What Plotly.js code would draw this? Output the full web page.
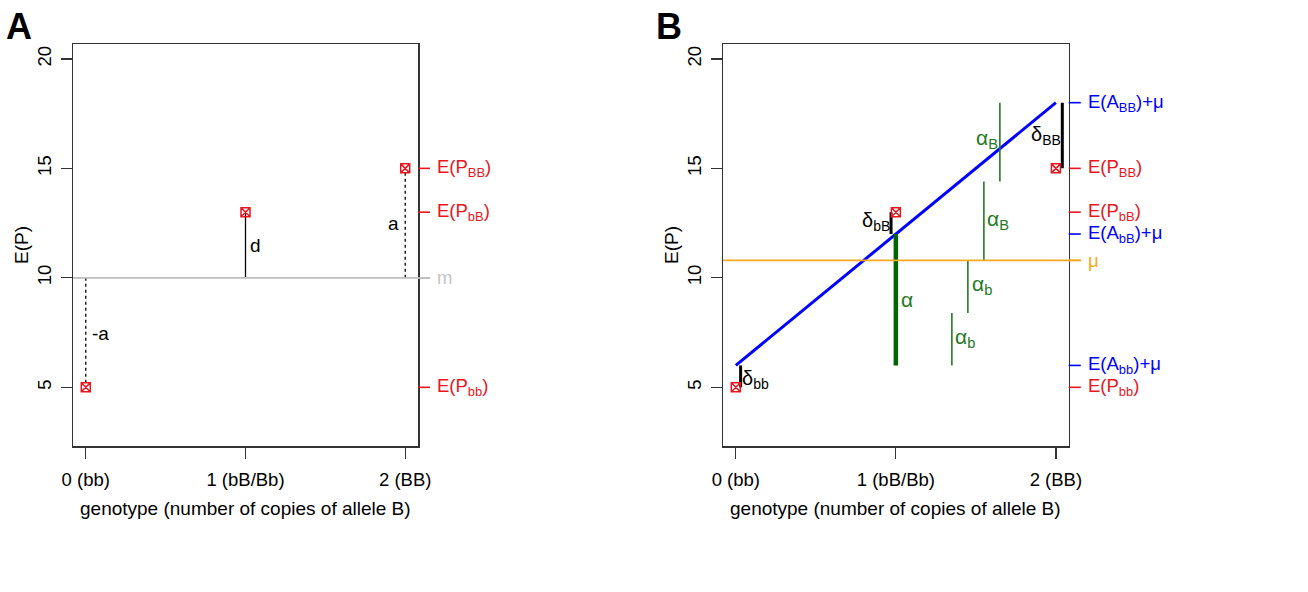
<!DOCTYPE html>
<html>
<head>
<meta charset="utf-8">
<script src="https://cdn.plot.ly/plotly-3.0.1.min.js"></script>
<style>html,body{margin:0;padding:0;background:#fff;}#chart{width:1308px;height:592px;}</style>
</head>
<body>
<div id="chart"></div>
<script>
// ---- data ----
const genotype = [0, 1, 2];
const genotypeLabels = ["0 (bb)", "1 (bB/Bb)", "2 (BB)"];
const yTicks = [5, 10, 15, 20];
const meanP = [5, 13, 15];              // E(P_bb), E(P_bB), E(P_BB)
const midpoint = 10;                    // m
const mu = 10.8;                        // population mean
const additivePlusMu = [6, 12, 18];     // E(A)+mu for bb, bB, BB
// panel A effect segments (from m to genotype means)
const effectStyle = ["dot", "solid", "dot"];
const effectLabels = ["-a", "d", "a"];
const effectLabelX = [0.09, 1.065, 1.925];
const effectLabelY = [7.48, 11.5, 12.5];
// panel B: allele substitution segments
const alphaTotalX = 1.0, alphaTotalFrom = 6, alphaTotalTo = 12;
const alphaX = [1.35, 1.45, 1.55, 1.65];
const alphaFrom = [6, 8.4, 10.8, 14.4];
const alphaTo = [8.4, 10.8, 14.4, 18];
const alphaLabels = ["α<sub>b</sub>", "α<sub>b</sub>", "α<sub>B</sub>", "α<sub>B</sub>"];
const alphaLabelX = [1.435, 1.536, 1.64, 1.567];
const alphaLabelY = [7.24, 9.68, 12.66, 16.33];
// panel B: dominance deviations
const deltaX = [0.03, 0.97, 2.04];
const deltaFrom = [6, 12, 18];
const deltaTo = [5, 13, 15];
const deltaLabels = ["δ<sub>bb</sub>", "δ<sub>bB</sub>", "δ<sub>BB</sub>"];
const deltaLabelX = [0.12, 0.876, 1.937];
const deltaLabelY = [5.37, 12.58, 16.48];
// right-hand margin labels
const rightA = [
  {v: meanP[2], t: "E(P<sub>BB</sub>)", c: "red"},
  {v: meanP[1], t: "E(P<sub>bB</sub>)", c: "red"},
  {v: midpoint, t: "m", c: "gray"},
  {v: meanP[0], t: "E(P<sub>bb</sub>)", c: "red"}
];
const rightB = [
  {v: additivePlusMu[2], t: "E(A<sub>BB</sub>)+μ", c: "blue"},
  {v: meanP[2], t: "E(P<sub>BB</sub>)", c: "red"},
  {v: meanP[1], t: "E(P<sub>bB</sub>)", c: "red"},
  {v: additivePlusMu[1], t: "E(A<sub>bB</sub>)+μ", c: "blue"},
  {v: mu, t: "μ", c: "orange"},
  {v: additivePlusMu[0], t: "E(A<sub>bb</sub>)+μ", c: "blue"},
  {v: meanP[0], t: "E(P<sub>bb</sub>)", c: "red"}
];

// ---- styles ----
const COL = {red: "#e8161e", blue: "#0000ff", gray: "#bebebe", orange: "#f7a823", green: "#237a23", dgreen: "#006400", black: "#000"};
const FONT = "Liberation Sans, Arial, sans-serif";
const W = 1308, H = 592;
const yDom = [(H - 446) / H, (H - 44) / H];
const xDomA = [73 / W, 418 / W];
const xDomB = [723 / W, 1068.7 / W];

const traces = [];
function seg(x0, y0, x1, y1, xa, ya, color, width, dash) {
  traces.push({x: [x0, x1], y: [y0, y1], xaxis: xa, yaxis: ya, mode: "lines",
    line: {color: color, width: width, dash: dash || "solid"}, hoverinfo: "skip", showlegend: false});
}

// Panel A
genotype.forEach((g, i) => seg(g, midpoint, g, meanP[i], "x", "y", "#000", 1.3, effectStyle[i]));
traces.push({x: genotype, y: meanP, xaxis: "x", yaxis: "y", mode: "markers",
  marker: {symbol: "square-x-open", size: 9, color: COL.red, line: {width: 1.5, color: COL.red}}, showlegend: false});

// Panel B
traces.push({x: genotype, y: additivePlusMu, xaxis: "x2", yaxis: "y2", mode: "lines",
  line: {color: COL.blue, width: 3}, showlegend: false, hoverinfo: "skip"});
seg(alphaTotalX, alphaTotalFrom, alphaTotalX, alphaTotalTo, "x2", "y2", COL.dgreen, 4.5);
alphaX.forEach((x, i) => seg(x, alphaFrom[i], x, alphaTo[i], "x2", "y2", COL.green, 1.6));
deltaX.forEach((x, i) => seg(x, deltaFrom[i], x, deltaTo[i], "x2", "y2", "#000", 3));
traces.push({x: genotype, y: meanP, xaxis: "x2", yaxis: "y2", mode: "markers",
  marker: {symbol: "square-x-open", size: 9, color: COL.red, line: {width: 1.5, color: COL.red}}, showlegend: false});

const shapes = [];
const annotations = [];
function ann(o) {
  annotations.push(Object.assign({showarrow: false, xanchor: "center", yanchor: "middle"}, o));
}
// horizontal reference lines
shapes.push({type: "line", xref: "x domain", yref: "y", x0: 0, x1: 1.035, y0: midpoint, y1: midpoint, line: {color: COL.gray, width: 1.6}});
shapes.push({type: "line", xref: "x2 domain", yref: "y2", x0: 0, x1: 1.035, y0: mu, y1: mu, line: {color: COL.orange, width: 1.6}});

function rightLabels(list, xa, ya) {
  list.forEach(o => {
    shapes.push({type: "line", xref: xa + " domain", yref: ya, x0: 1, x1: 1.035, y0: o.v, y1: o.v, line: {color: COL[o.c], width: 1.6}});
    ann({xref: xa + " domain", yref: ya, x: 1.05, y: o.v, text: o.t, xanchor: "left",
      font: {family: FONT, size: 18.5, color: o.c === "gray" ? "#c4c4c4" : COL[o.c]}});
  });
}
rightLabels(rightA, "x", "y");
rightLabels(rightB, "x2", "y2");

effectLabels.forEach((t, i) => ann({xref: "x", yref: "y", x: effectLabelX[i], y: effectLabelY[i], text: t,
  font: {family: FONT, size: 19, color: "#000"}}));
ann({xref: "x2", yref: "y2", x: 1.07, y: 9.0, text: "α", font: {family: FONT, size: 21, color: COL.green}});
alphaLabels.forEach((t, i) => ann({xref: "x2", yref: "y2", x: alphaLabelX[i], y: alphaLabelY[i], text: t,
  font: {family: FONT, size: 21, color: COL.green}}));
deltaLabels.forEach((t, i) => ann({xref: "x2", yref: "y2", x: deltaLabelX[i], y: deltaLabelY[i], text: t,
  font: {family: FONT, size: 20, color: "#000"}}));

// panel letters and axis titles
ann({xref: "paper", yref: "paper", x: 19 / W, y: (H - 26) / H, text: "<b>A</b>", font: {family: FONT, size: 36, color: "#000"}});
ann({xref: "paper", yref: "paper", x: 669 / W, y: (H - 26) / H, text: "<b>B</b>", font: {family: FONT, size: 36, color: "#000"}});
[[22, 245.5], [672, 895.5]].forEach(([yx, xx]) => {
  ann({xref: "paper", yref: "paper", x: yx / W, y: (H - 245) / H, text: "E(P)", textangle: -90, font: {family: FONT, size: 19, color: "#000"}});
  ann({xref: "paper", yref: "paper", x: xx / W, y: (H - 508) / H, text: "genotype (number of copies of allele B)", font: {family: FONT, size: 19, color: "#000"}});
});

function xaxis(dom, anchor) {
  return {domain: dom, anchor: anchor, range: [-0.08, 2.08], tickvals: genotype, ticktext: genotypeLabels,
    ticks: "outside", ticklen: 11, tickwidth: 1.3, tickcolor: "#333", ticklabelstandoff: 5,
    showline: true, mirror: true, linecolor: "#333", linewidth: 1.5,
    showgrid: false, zeroline: false, tickfont: {family: FONT, size: 18.5, color: "#000"}, automargin: false, fixedrange: true};
}
function yaxis(anchor) {
  return {domain: yDom, anchor: anchor, range: [2.32, 20.68], tickvals: yTicks, tickangle: -90,
    ticks: "outside", ticklen: 11, tickwidth: 1.3, tickcolor: "#333", ticklabelstandoff: 2,
    showline: true, mirror: true, linecolor: "#333", linewidth: 1.5,
    showgrid: false, zeroline: false, tickfont: {family: FONT, size: 18.5, color: "#000"}, automargin: false, fixedrange: true};
}

const layout = {
  width: W, height: H, margin: {l: 0, r: 0, t: 0, b: 0}, paper_bgcolor: "#fff", plot_bgcolor: "#fff",
  showlegend: false,
  xaxis: xaxis(xDomA, "y"), yaxis: yaxis("x"),
  xaxis2: xaxis(xDomB, "y2"), yaxis2: yaxis("x2"),
  shapes: shapes, annotations: annotations
};
Plotly.newPlot("chart", traces, layout, {displayModeBar: false, staticPlot: true});
</script>
</body>
</html>
